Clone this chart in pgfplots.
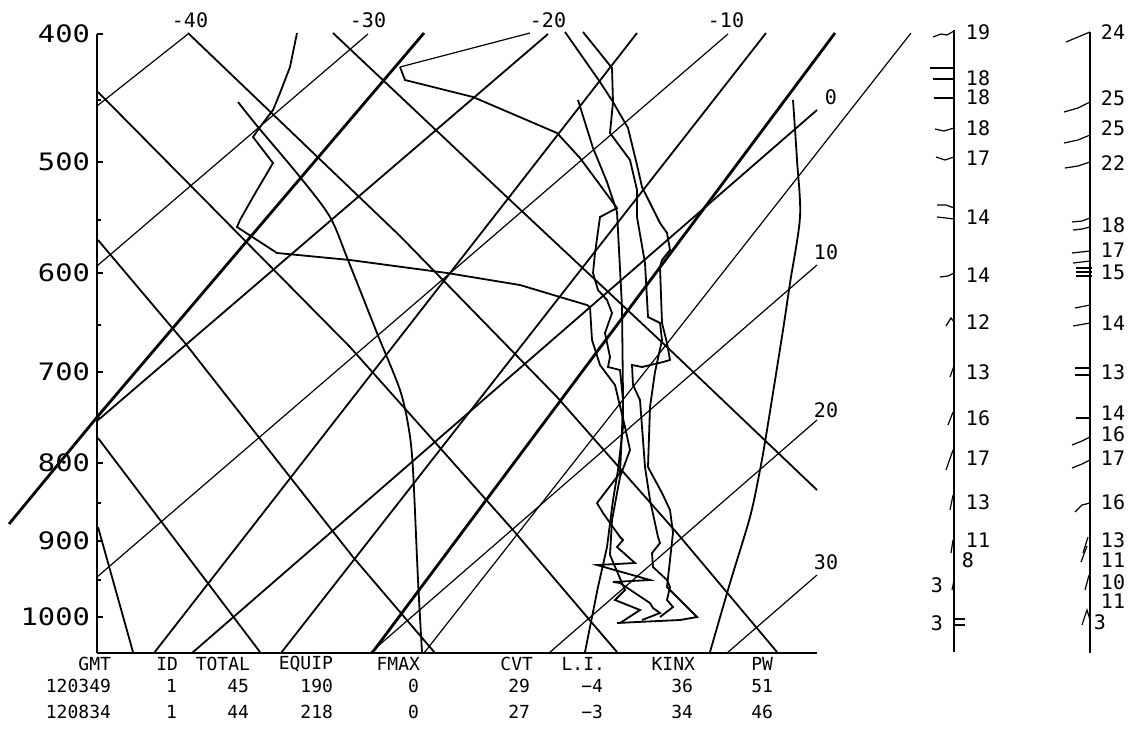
\documentclass[border=0pt]{standalone}
\usepackage{fontspec}
\setmainfont{DejaVu Sans Mono}
\usepackage{graphicx}
\usepackage{pgfplots}
\pgfplotsset{compat=1.18}
\pgfplotsset{
  thinl/.style={black, line width=0.6pt, no markers},
  midl/.style={black, line width=0.9pt, no markers},
  heavyl/.style={black, line width=1.4pt, no markers},
}
\newcommand{\lab}{\fontsize{10}{10}\selectfont}
\newcommand{\tab}{\fontsize{9}{9}\selectfont}
\begin{document}
\begin{tikzpicture}
\begin{axis}[
    x=0.5pt, y=0.5pt, y dir=reverse,
    xmin=97, xmax=817, ymin=34, ymax=653,
    axis y line=left, axis x line=none,
    axis line style={-, line width=1pt},
    clip=false,
    ytick={34,162,273,372,463,541,617},
    yticklabels={\scalebox{1.2}[1]{400},\scalebox{1.2}[1]{500},\scalebox{1.2}[1]{600},\scalebox{1.2}[1]{700},\scalebox{1.2}[1]{800},\scalebox{1.2}[1]{900},\scalebox{1.2}[1]{1000}},
    minor ytick={100,220,325,418,503,580},
    tick align=inside,
    major tick length=3pt, minor tick length=2pt,
    every tick/.style={black, line width=0.6pt},
    yticklabel style={font=\fontsize{12}{12}\selectfont},
]
% fixed page size
\path (axis cs:0,0) rectangle (axis cs:1135,735);

% base line
\addplot[black, line width=1.2pt, no markers] coordinates {(97,653) (817,653)};

% isotherms
\addplot[thinl] coordinates {(188,34) (97,106)};
\addplot[thinl] coordinates {(368,34) (97,266)};
\addplot[midl] coordinates {(548,34) (97,421)};
\addplot[thinl] coordinates {(728,34) (97,577)};
\addplot[midl] coordinates {(817,110) (192,653)};
\addplot[thinl] coordinates {(817,265) (370,653)};
\addplot[thinl] coordinates {(817,420) (549,653)};
\addplot[thinl] coordinates {(817,575) (727,653)};

% steep lines
\addplot[heavyl] coordinates {(424,33) (98,416) (9,524)};
\addplot[heavyl] coordinates {(835,33) (372,653)};
\addplot[midl] coordinates {(637,33) (154,653)};
\addplot[midl] coordinates {(766,33) (281,653)};
\addplot[thinl] coordinates {(911,33) (424,653)};

% dry adiabats
\addplot[midl] coordinates {(333,33) (510,200) (667,347) (817,490)};
\addplot[midl] coordinates {(188,33) (400,236) (557,397) (677,533) (777,652)};
\addplot[midl] coordinates {(98,92) (192,187) (350,347) (433,440) (513,530) (587,617) (617,652)};
\addplot[midl] coordinates {(98,240) (185,343) (290,477) (353,557) (435,653)};
\addplot[midl] coordinates {(98,438) (260,652)};
\addplot[midl] coordinates {(98,527) (133,652)};

% moist adiabats and parcel
\addplot[midl, smooth] coordinates {(238,102) (258,127) (300,177) (330,217) (348,260) (377,333) (400,390) (409,430) (413,470) (418,580) (422,652)};
\addplot[midl, smooth] coordinates {(793,100) (797,160) (800,217) (790,283) (783,330) (767,430) (760,470) (750,517) (730,583) (710,652)};
\addplot[midl] coordinates {(578,100) (593,148) (607,182) (617,212) (622,307) (623,397) (623,427) (618,470) (613,500) (607,547) (598,587) (585,652)};

% sounding traces
\addplot[midl] coordinates {(297,33) (290,67) (280,93) (273,110) (263,123) (253,137) (273,163) (253,197) (240,220) (237,227) (277,253) (350,260) (447,273) (520,285) (570,300) (587,305) (590,307) (592,340) (600,365) (615,385) (625,427) (630,450) (620,477) (612,520) (610,555) (625,590) (615,600) (640,610) (620,623)};
\addplot[thinl] coordinates {(530,33) (400,67)};
\addplot[midl] coordinates {(400,67) (405,80) (473,97) (557,133) (580,158) (617,208) (600,217) (595,253) (593,273) (598,290) (607,300) (612,313) (605,333) (610,357) (608,367) (620,370) (623,400) (622,430) (620,473) (597,503) (603,513) (620,537) (623,540) (617,547) (635,563) (597,565) (650,580) (613,582) (620,583) (650,603) (653,608) (660,613) (642,620)};
\addplot[midl] coordinates {(565,32) (600,82) (613,102) (628,128) (637,165) (642,187) (650,203) (660,223) (667,233) (670,250) (662,260) (660,267) (662,323) (667,343) (670,360) (663,362) (642,367) (632,365) (633,385) (640,400) (645,467) (650,500) (658,537) (660,543) (652,553) (653,567) (667,580) (670,587) (667,600) (673,607) (660,617)};
\addplot[midl] coordinates {(583,32) (612,68) (613,102) (610,133) (630,160) (637,190) (637,217) (645,263) (648,317) (660,323) (662,340) (655,372) (650,407) (648,467) (662,493) (670,510) (673,533) (670,560) (667,587) (697,617) (680,620) (637,622) (617,623)};

% isotherm labels
\node[font=\lab] at (axis cs:190,20) {-40};
\node[font=\lab] at (axis cs:368,20) {-30};
\node[font=\lab] at (axis cs:548,20) {-20};
\node[font=\lab] at (axis cs:726,20) {-10};
\node[font=\lab] at (axis cs:831,97) {0};
\node[font=\lab] at (axis cs:826,252) {10};
\node[font=\lab] at (axis cs:826,410) {20};
\node[font=\lab] at (axis cs:826,562) {30};

% wind columns
\addplot[black, line width=1pt, no markers] coordinates {(954,30) (954,652)};
\addplot[black, line width=1pt, no markers] coordinates {(1090,32) (1090,653)};

% barbs, column 1
\addplot[thinl] coordinates {(933,37) (941,34) (947,35) (954,31)};
\addplot[thinl] coordinates {(930,68) (954,68)};
\addplot[thinl] coordinates {(933,79) (954,79)};
\addplot[thinl] coordinates {(934,98) (954,98)};
\addplot[thinl] coordinates {(935,129) (944,131) (954,128)};
\addplot[thinl] coordinates {(936,157) (945,160) (954,157)};
\addplot[thinl] coordinates {(937,205) (946,205) (954,208)};
\addplot[thinl] coordinates {(937,217) (946,218) (954,219)};
\addplot[thinl] coordinates {(940,277) (948,276) (954,273)};
\addplot[thinl] coordinates {(946,326) (951,318) (954,322)};
\addplot[thinl] coordinates {(950,377) (954,366)};
\addplot[thinl] coordinates {(948,425) (953,412)};
\addplot[thinl] coordinates {(946,470) (953,450)};
\addplot[thinl] coordinates {(950,510) (953,495)};
\addplot[thinl] coordinates {(951,553) (953,540)};
\addplot[thinl] coordinates {(952,590) (954,580)};
\addplot[thinl] coordinates {(955,619) (965,619)};
\addplot[thinl] coordinates {(955,625) (965,625)};

% barbs, column 2
\addplot[thinl] coordinates {(1066,42) (1078,37) (1090,32)};
\addplot[thinl] coordinates {(1064,112) (1078,108) (1090,102)};
\addplot[thinl] coordinates {(1064,143) (1078,140) (1090,135)};
\addplot[thinl] coordinates {(1065,168) (1078,166) (1090,162)};
\addplot[thinl] coordinates {(1072,222) (1082,221) (1090,218)};
\addplot[thinl] coordinates {(1073,230) (1082,229) (1090,227)};
\addplot[thinl] coordinates {(1072,253) (1090,251)};
\addplot[thinl] coordinates {(1073,263) (1090,261)};
\addplot[thinl] coordinates {(1076,268) (1092,268)};
\addplot[thinl] coordinates {(1076,272) (1092,272)};
\addplot[thinl] coordinates {(1076,276) (1092,276)};
\addplot[thinl] coordinates {(1075,308) (1090,305)};
\addplot[thinl] coordinates {(1073,326) (1090,323)};
\addplot[thinl] coordinates {(1075,368) (1090,368)};
\addplot[thinl] coordinates {(1075,375) (1090,375)};
\addplot[thinl] coordinates {(1076,418) (1090,418)};
\addplot[thinl] coordinates {(1072,445) (1082,441) (1090,437)};
\addplot[thinl] coordinates {(1072,468) (1082,464) (1090,460)};
\addplot[thinl] coordinates {(1075,512) (1082,505) (1090,503)};
\addplot[thinl] coordinates {(1083,553) (1088,537)};
\addplot[thinl] coordinates {(1081,562) (1087,546)};
\addplot[thinl] coordinates {(1085,590) (1089,575)};
\addplot[thinl] coordinates {(1082,625) (1087,610) (1090,620)};

% wind speeds, column 1
\node[font=\lab] at (axis cs:978,32) {19};
\node[font=\lab] at (axis cs:978,78) {18};
\node[font=\lab] at (axis cs:978,97) {18};
\node[font=\lab] at (axis cs:978,128) {18};
\node[font=\lab] at (axis cs:978,158) {17};
\node[font=\lab] at (axis cs:978,217) {14};
\node[font=\lab] at (axis cs:978,275) {14};
\node[font=\lab] at (axis cs:978,322) {12};
\node[font=\lab] at (axis cs:978,372) {13};
\node[font=\lab] at (axis cs:978,418) {16};
\node[font=\lab] at (axis cs:978,458) {17};
\node[font=\lab] at (axis cs:978,502) {13};
\node[font=\lab] at (axis cs:978,540) {11};
\node[font=\lab] at (axis cs:968,560) {8};
\node[font=\lab] at (axis cs:937,585) {3};
\node[font=\lab] at (axis cs:937,623) {3};

% wind speeds, column 2
\node[font=\lab] at (axis cs:1113,32) {24};
\node[font=\lab] at (axis cs:1113,98) {25};
\node[font=\lab] at (axis cs:1113,128) {25};
\node[font=\lab] at (axis cs:1113,163) {22};
\node[font=\lab] at (axis cs:1113,225) {18};
\node[font=\lab] at (axis cs:1113,250) {17};
\node[font=\lab] at (axis cs:1113,272) {15};
\node[font=\lab] at (axis cs:1113,323) {14};
\node[font=\lab] at (axis cs:1113,372) {13};
\node[font=\lab] at (axis cs:1113,413) {14};
\node[font=\lab] at (axis cs:1113,434) {16};
\node[font=\lab] at (axis cs:1113,458) {17};
\node[font=\lab] at (axis cs:1113,502) {16};
\node[font=\lab] at (axis cs:1113,540) {13};
\node[font=\lab] at (axis cs:1113,560) {11};
\node[font=\lab] at (axis cs:1113,582) {10};
\node[font=\lab] at (axis cs:1113,601) {11};
\node[font=\lab] at (axis cs:1100,622) {3};

% table
\node[font=\tab, anchor=east] at (axis cs:118,664) {GMT};
\node[font=\tab, anchor=east] at (axis cs:185,664) {ID};
\node[font=\tab, anchor=east] at (axis cs:257,664) {TOTAL};
\node[font=\tab, anchor=east] at (axis cs:340,664) {EQUIP};
\node[font=\tab, anchor=east] at (axis cs:427,664) {FMAX};
\node[font=\tab, anchor=east] at (axis cs:540,664) {CVT};
\node[font=\tab, anchor=east] at (axis cs:612,664) {L.I.};
\node[font=\tab, anchor=east] at (axis cs:702,664) {KINX};
\node[font=\tab, anchor=east] at (axis cs:780,664) {PW};

\node[font=\tab, anchor=east] at (axis cs:118,686) {120349};
\node[font=\tab, anchor=east] at (axis cs:184,686) {1};
\node[font=\tab, anchor=east] at (axis cs:256,686) {45};
\node[font=\tab, anchor=east] at (axis cs:340,686) {190};
\node[font=\tab, anchor=east] at (axis cs:426,686) {0};
\node[font=\tab, anchor=east] at (axis cs:537,686) {29};
\node[font=\tab, anchor=east] at (axis cs:610,686) {−4};
\node[font=\tab, anchor=east] at (axis cs:700,686) {36};
\node[font=\tab, anchor=east] at (axis cs:780,686) {51};

\node[font=\tab, anchor=east] at (axis cs:118,712) {120834};
\node[font=\tab, anchor=east] at (axis cs:184,712) {1};
\node[font=\tab, anchor=east] at (axis cs:256,712) {44};
\node[font=\tab, anchor=east] at (axis cs:340,712) {218};
\node[font=\tab, anchor=east] at (axis cs:426,712) {0};
\node[font=\tab, anchor=east] at (axis cs:537,712) {27};
\node[font=\tab, anchor=east] at (axis cs:610,712) {−3};
\node[font=\tab, anchor=east] at (axis cs:700,712) {34};
\node[font=\tab, anchor=east] at (axis cs:780,712) {46};
\end{axis}
\end{tikzpicture}
\end{document}
